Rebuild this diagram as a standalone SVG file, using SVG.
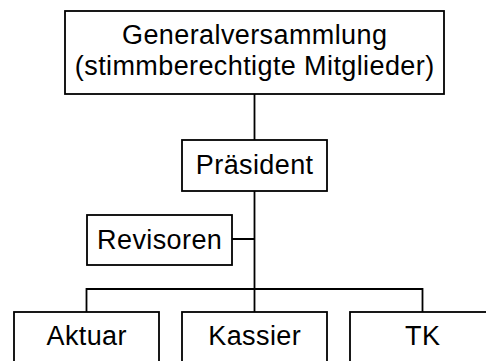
<svg xmlns="http://www.w3.org/2000/svg" width="486" height="361" viewBox="0 0 486 361">
<style>
.box{fill:#fff;stroke:#000;stroke-width:1.8}
.lbl{font-family:"Liberation Sans",Arial,sans-serif;font-size:27px;letter-spacing:0.4px;fill:#000;text-anchor:middle}
.conn{fill:none;stroke:#000;stroke-width:1.8}
</style>
<rect width="486" height="361" fill="#fff"/>
<g id="connectors">
<path class="conn" d="M254.5 94 V140 M254.5 191 V312 M232 239 H254.5 M86.5 312 V289 H422.5 V312"/>
</g>
<g id="generalversammlung">
<rect class="box" x="65" y="11" width="379" height="83"/>
<text class="lbl" x="254.7" y="44">Generalversammlung</text>
<text class="lbl" x="254.7" y="75">(stimmberechtigte Mitglieder)</text>
</g>
<g id="praesident">
<rect class="box" x="182" y="140" width="145" height="51"/>
<text class="lbl" x="254.7" y="174">Präsident</text>
</g>
<g id="revisoren">
<rect class="box" x="87" y="215" width="145" height="50"/>
<text class="lbl" x="159.7" y="249">Revisoren</text>
</g>
<g id="aktuar">
<rect class="box" x="14" y="312" width="145" height="60"/>
<text class="lbl" x="86.7" y="345">Aktuar</text>
</g>
<g id="kassier">
<rect class="box" x="182" y="312" width="145" height="60"/>
<text class="lbl" x="254.7" y="345">Kassier</text>
</g>
<g id="tk">
<rect class="box" x="350" y="312" width="145" height="60"/>
<text class="lbl" x="422.7" y="345">TK</text>
</g>
</svg>
